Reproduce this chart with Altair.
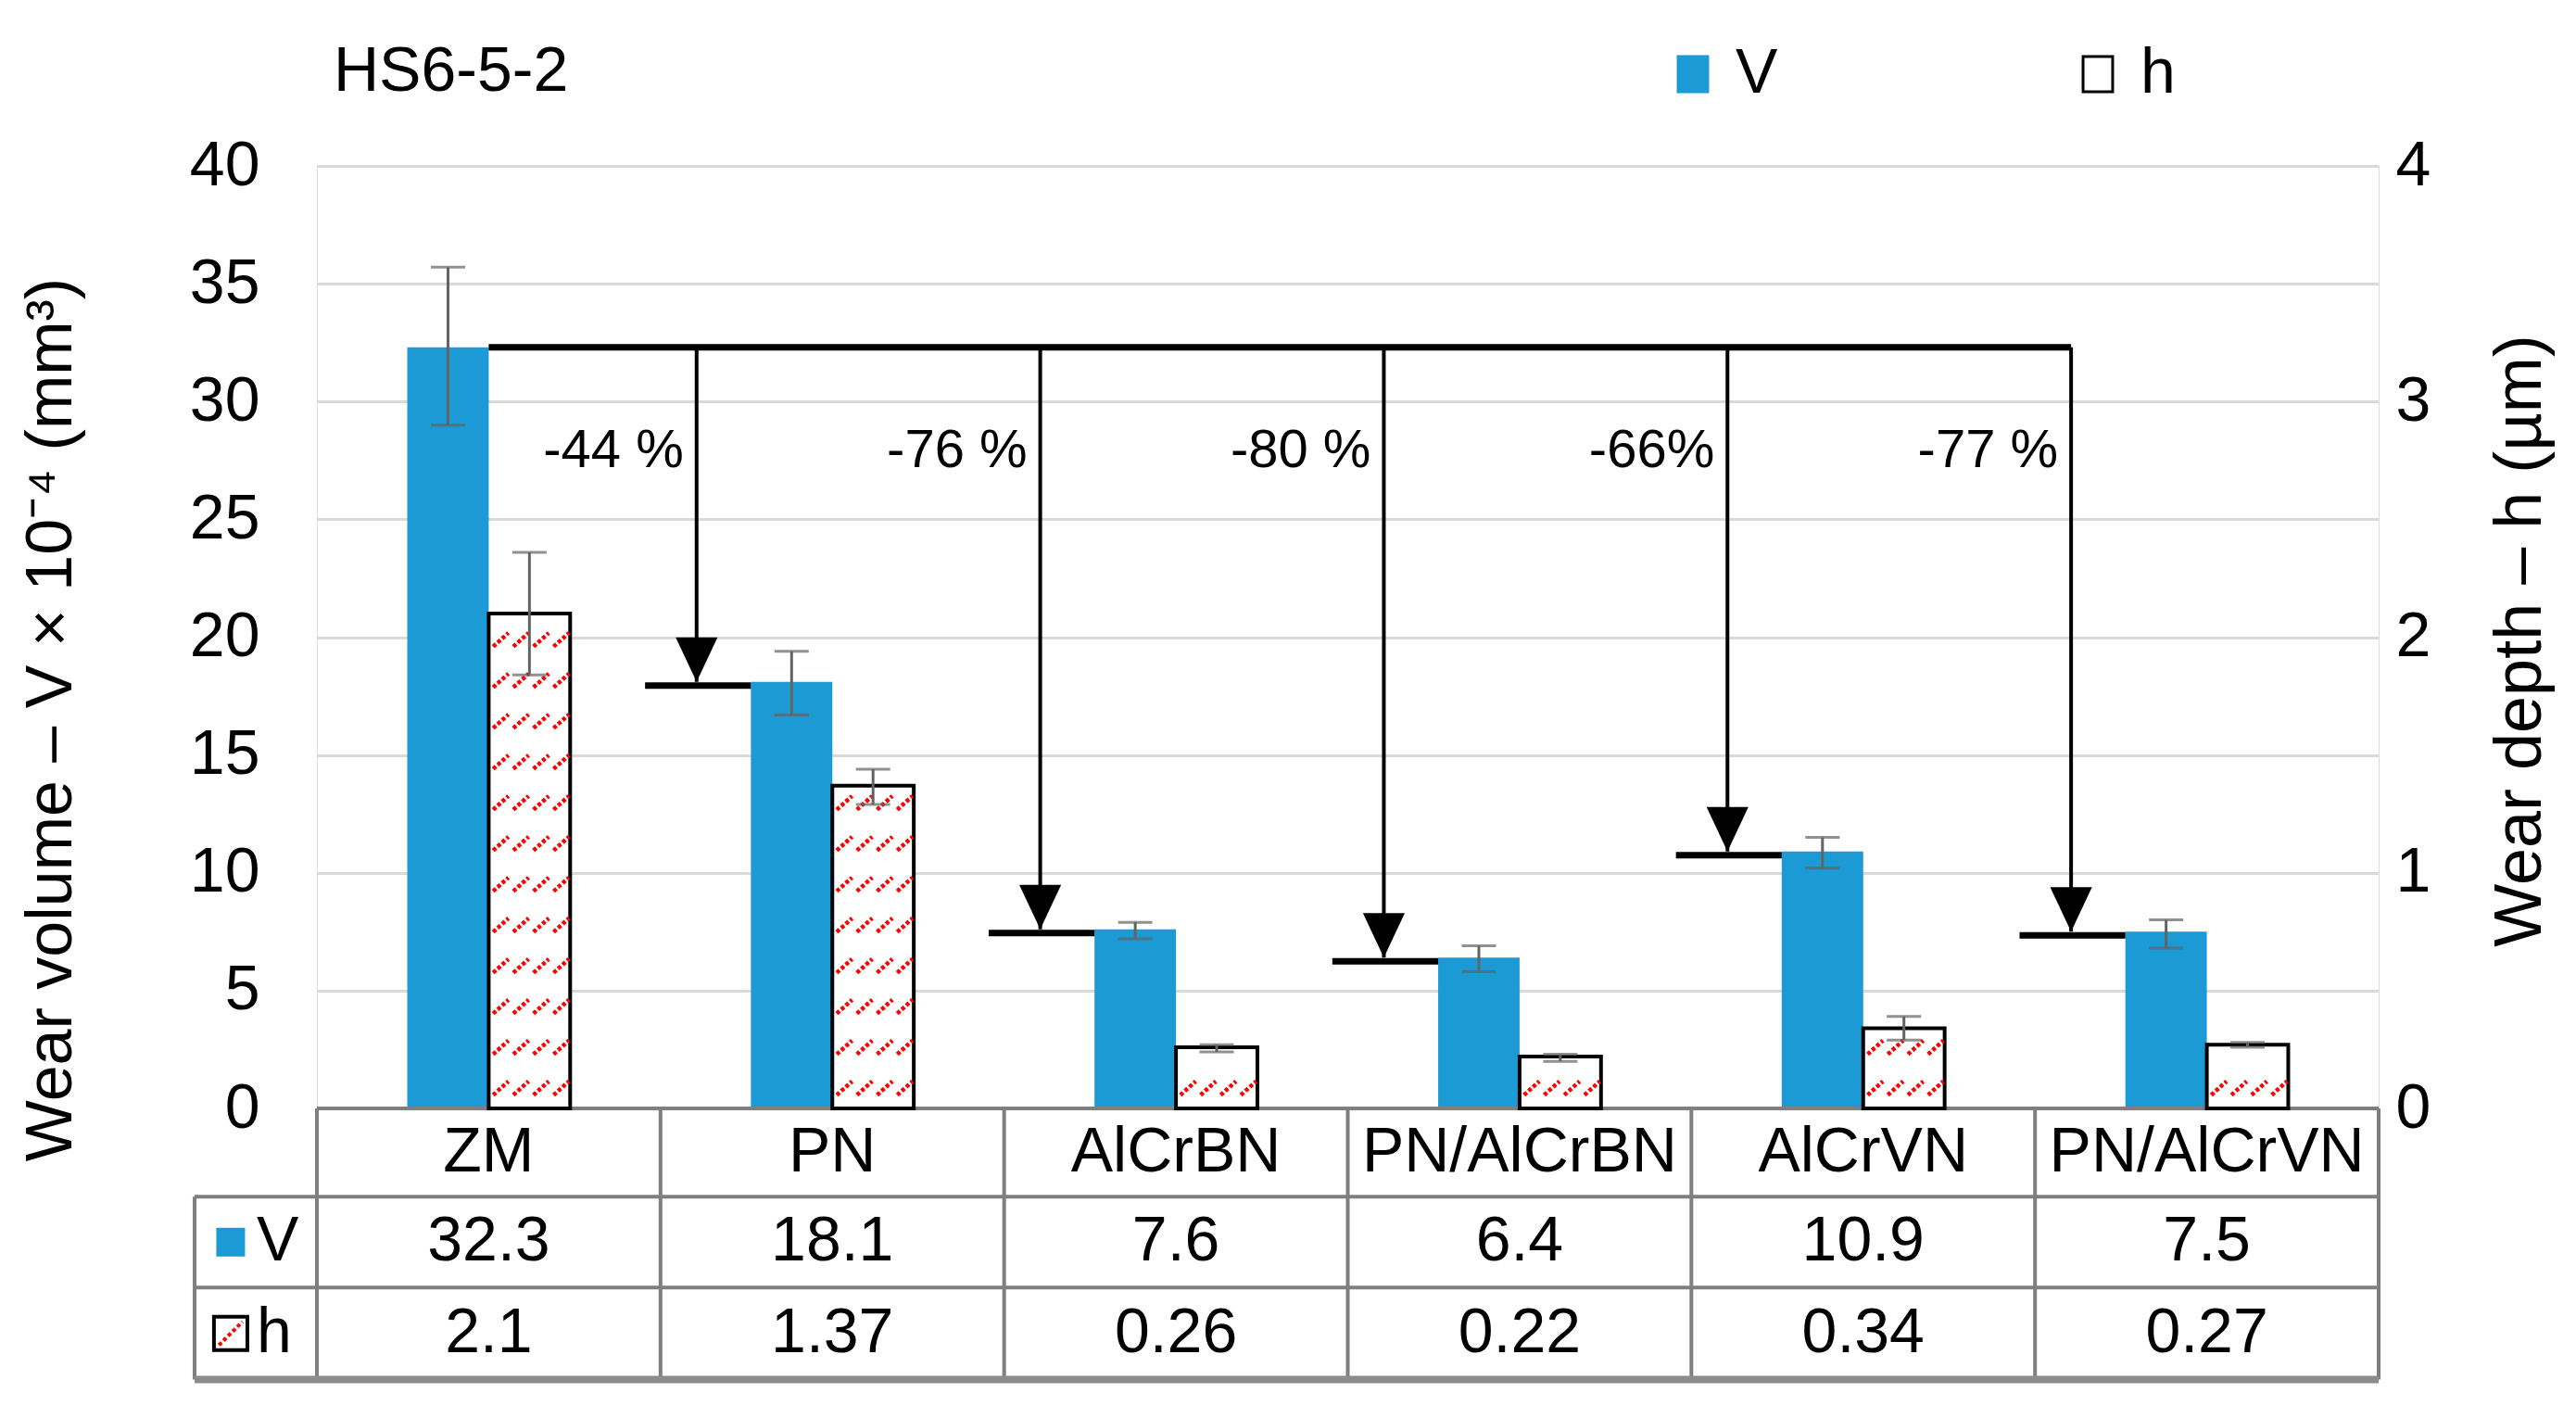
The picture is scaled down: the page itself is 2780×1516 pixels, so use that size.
import altair as alt
import pandas as pd

# ---------------- data ----------------
categories = ["ZM", "PN", "AlCrBN", "PN/AlCrBN", "AlCrVN", "PN/AlCrVN"]
V = [32.3, 18.1, 7.6, 6.4, 10.9, 7.5]
h = [2.1, 1.37, 0.26, 0.22, 0.34, 0.27]
V_low = [29.0, 16.7, 7.2, 5.8, 10.2, 6.8]
V_high = [35.7, 19.4, 7.9, 6.9, 11.5, 8.0]
h_low = [1.84, 1.29, 0.24, 0.20, 0.29, 0.26]
h_high = [2.36, 1.44, 0.27, 0.23, 0.39, 0.28]
pct_labels = ["-44 %", "-76 %", "-80 %", "-66%", "-77 %"]
V_table = ["32.3", "18.1", "7.6", "6.4", "10.9", "7.5"]
h_table = ["2.1", "1.37", "0.26", "0.22", "0.34", "0.27"]
v_ticks = [0, 5, 10, 15, 20, 25, 30, 35, 40]
h_ticks = [0, 1, 2, 3, 4]
series = ["V", "h"]

# ---------------- style / layout ----------------
FONT = "Liberation Sans"
BLUE = "#1B9AD6"
ERR = "#636363"
GRID = "#d9d9d9"
TLINE = "#7f7f7f"
BW = 0.237            # bar width in category units
ARROW_DX = -0.395     # arrow position relative to category centre
TARGET_X0 = -0.545    # left end of target line
PCT_Y = 27.9
ROW_Y = [0, -3.75, -7.6, -11.5]   # table row boundaries (in left-axis units)
HEADER_LEFT = -0.856
KEY_X = -0.751
KEY_LABEL_X = -0.675
HATCH_START, HATCH_STEP, HATCH_MARGIN = 0.086, 0.173, 0.03
W, H = 2225, 1017

n = len(categories)
idx = list(range(n))

vdf = pd.DataFrame({"cat": categories, "idx": idx, "val": V, "lo": V_low, "hi": V_high})
vdf["series"] = "V"
vdf["x0"] = vdf["idx"] - BW
vdf["x1"] = vdf["idx"]
vdf["xc"] = vdf["idx"] - BW / 2

hdf = pd.DataFrame({"cat": categories, "idx": idx, "val": h, "lo": h_low, "hi": h_high})
hdf["series"] = "h"
hdf["x0"] = hdf["idx"]
hdf["x1"] = hdf["idx"] + BW
hdf["xc"] = hdf["idx"] + BW / 2

hatch_rows = []
for i, hv in enumerate(h):
    y = HATCH_START
    while y + HATCH_MARGIN <= hv:
        hatch_rows.append({"xc": i + BW / 2, "y": y})
        y += HATCH_STEP
hatch = pd.DataFrame(hatch_rows)

arr = pd.DataFrame({
    "x": [i + ARROW_DX for i in idx[1:]],
    "ytop": [V[0]] * (n - 1),
    "ytip": V[1:],
    "tx0": [i + TARGET_X0 for i in idx[1:]],
    "tx1": [i - BW for i in idx[1:]],
    "label": pct_labels,
    "ly": [PCT_Y] * (n - 1),
})
longline = pd.DataFrame({"x0": [0], "x1": [idx[-1] + ARROW_DX], "y": [V[0]]})

# table lines
hl = [{"x0": -0.5, "x1": n - 0.5, "y0": ROW_Y[0], "y1": ROW_Y[0]}]
for ry in ROW_Y[1:-1]:
    hl.append({"x0": HEADER_LEFT, "x1": n - 0.5, "y0": ry, "y1": ry})
vl_ = [{"x0": k - 0.5, "x1": k - 0.5, "y0": ROW_Y[0], "y1": ROW_Y[-1]} for k in range(n + 1)]
vl_.append({"x0": HEADER_LEFT, "x1": HEADER_LEFT, "y0": ROW_Y[1], "y1": ROW_Y[-1]})
tlines = pd.DataFrame(hl + vl_)
bottom = pd.DataFrame({"x0": [HEADER_LEFT], "x1": [n - 0.5], "y0": [ROW_Y[-1]], "y1": [ROW_Y[-1]]})

mid = [(ROW_Y[k] + ROW_Y[k + 1]) / 2 for k in range(3)]
ttext = pd.DataFrame({
    "x": idx * 3,
    "y": [mid[0]] * n + [mid[1]] * n + [mid[2]] * n,
    "t": categories + V_table + h_table,
})
rowhead = pd.DataFrame({"s": series, "y": mid[1:], "kx": [KEY_X] * 2, "lx": [KEY_LABEL_X] * 2})

# ---------------- encodings ----------------
XS = alt.Scale(domain=[-0.5, n - 0.5], nice=False, zero=False)
def X(f):
    return alt.X(f, type="quantitative", scale=XS, axis=None)

YS_L = alt.Scale(domain=[0, 40], nice=False, zero=False)
AX_L = alt.Axis(values=v_ticks, title="Wear volume – V × 10⁻⁴ (mm³)", grid=True,
                gridColor=GRID, gridWidth=3, domain=False, ticks=False,
                labelFontSize=68, labelPadding=62, labelColor="black", labelFont=FONT,
                titleFontSize=70, titleFont=FONT, titleFontWeight="normal", titleColor="black",
                titleAngle=270, titleX=-287, titleY=597, titleAlign="center", titleBaseline="middle")
def YL(f):
    return alt.Y(f, type="quantitative", scale=YS_L, axis=AX_L)

YS_R = alt.Scale(domain=[0, 4], nice=False, zero=False)
AX_R = alt.Axis(values=h_ticks, orient="right", title="Wear depth – h (µm)", grid=False,
                domain=False, ticks=False, labelFontSize=68, labelPadding=18,
                labelColor="black", labelFont=FONT,
                titleFontSize=72, titleFont=FONT, titleFontWeight="normal", titleColor="black",
                titleAngle=270, titleX=152, titleY=512, titleAlign="center", titleBaseline="middle")
def YR(f):
    return alt.Y(f, type="quantitative", scale=YS_R, axis=AX_R)

RECT = "M-0.84,-1H0.84V1H-0.84Z"
LEG = alt.Legend(title=None, orient="none", legendX=1451, legendY=-133, direction="horizontal",
                 columns=2, columnPadding=311, padding=0, labelFontSize=68, labelFont=FONT,
                 labelColor="black", labelOffset=12, symbolType=RECT, symbolSize=1444,
                 symbolStrokeWidth=3)
FILL = alt.Color("series:N", scale=alt.Scale(domain=series, range=[BLUE, "white"]), legend=LEG)
STROKE = alt.Stroke("series:N", scale=alt.Scale(domain=series, range=[BLUE, "black"]), legend=LEG)

TRI = "M-0.94,-2L0.94,-2L0,0Z"
HATCH = "M-0.9,0.17L-0.52,-0.17M-0.4,0.17L-0.02,-0.17M0.1,0.17L0.48,-0.17M0.6,0.17L0.98,-0.17"
SQ = "M-1,-1H1V1H-1Z"
DIAG = "M-0.7,0.7L0.7,-0.7"

# ---------------- left (V) layers ----------------
v_bars = alt.Chart(vdf).mark_bar(strokeWidth=0).encode(
    x=X("x0"), x2=alt.X2("x1"), y=YL("val"), y2=alt.datum(0), fill=FILL, stroke=STROKE)
v_err = alt.Chart(vdf).mark_errorbar(ticks=True, size=37, thickness=3, color=ERR).encode(
    x=X("xc"), y=YL("lo"), y2=alt.Y2("hi"))
long_l = alt.Chart(longline).mark_rule(strokeWidth=7, color="black").encode(
    x=X("x0"), x2=alt.X2("x1"), y=YL("y"))
vert = alt.Chart(arr).mark_rule(strokeWidth=4, color="black").encode(
    x=X("x"), y=YL("ytop"), y2=alt.Y2("ytip"))
target = alt.Chart(arr).mark_rule(strokeWidth=7, color="black", yOffset=4).encode(
    x=X("tx0"), x2=alt.X2("tx1"), y=YL("ytip"))
heads = alt.Chart(arr).mark_point(shape=TRI, size=2304, filled=True, color="black",
                                   opacity=1, strokeWidth=0).encode(x=X("x"), y=YL("ytip"))
pct = alt.Chart(arr).mark_text(align="right", baseline="middle", dx=-14, fontSize=58,
                               font=FONT, color="black").encode(x=X("x"), y=YL("ly"), text="label:N")

t_lines = alt.Chart(tlines).mark_rule(strokeWidth=4, color=TLINE).encode(
    x=X("x0"), x2=alt.X2("x1"), y=YL("y0"), y2=alt.Y2("y1"))
t_bottom = alt.Chart(bottom).mark_rule(strokeWidth=8, color="#8c8c8c").encode(
    x=X("x0"), x2=alt.X2("x1"), y=YL("y0"), y2=alt.Y2("y1"))
t_text = alt.Chart(ttext).mark_text(baseline="middle", align="center", fontSize=68,
                                    font=FONT, color="black").encode(x=X("x"), y=YL("y"), text="t:N")
key_v = alt.Chart(rowhead[rowhead.s == "V"]).mark_point(shape=SQ, size=961, filled=True,
                                                        color=BLUE, opacity=1, strokeWidth=0).encode(
    x=X("kx"), y=YL("y"))
key_h = alt.Chart(rowhead[rowhead.s == "h"]).mark_point(shape=SQ, size=1300, filled=True,
                                                        fill="white", stroke="black", strokeWidth=4,
                                                        opacity=1).encode(x=X("kx"), y=YL("y"))
key_hd = alt.Chart(rowhead[rowhead.s == "h"]).mark_point(shape=DIAG, size=1300, filled=False,
                                                         color="red", strokeWidth=4, strokeDash=[4, 3],
                                                         opacity=1).encode(x=X("kx"), y=YL("y"))
key_lbl = alt.Chart(rowhead).mark_text(align="left", baseline="middle", fontSize=68, font=FONT,
                                       color="black").encode(x=X("lx"), y=YL("y"), text="s:N")

left = alt.layer(v_bars, v_err, long_l, vert, target, heads, pct,
                 t_lines, t_bottom, t_text, key_v, key_h, key_hd, key_lbl)

# ---------------- right (h) layers ----------------
h_bars = alt.Chart(hdf).mark_bar(strokeWidth=4).encode(
    x=X("x0"), x2=alt.X2("x1"), y=YR("val"), y2=alt.datum(0), fill=FILL, stroke=STROKE)
h_hatch = alt.Chart(hatch).mark_point(shape=HATCH, size=7569, filled=False, color="red",
                                      strokeWidth=4.5, strokeDash=[4, 2.5], opacity=1).encode(
    x=X("xc"), y=YR("y"))
h_err = alt.Chart(hdf).mark_errorbar(ticks=True, size=37, thickness=3, color=ERR).encode(
    x=X("xc"), y=YR("lo"), y2=alt.Y2("hi"))
right = alt.layer(h_bars, h_hatch, h_err)

chart = alt.layer(left, right).resolve_scale(y="independent").properties(
    width=W, height=H,
    title=alt.TitleParams("HS6-5-2", anchor="start", frame="group", dx=18, offset=-120,
                          baseline="alphabetic", fontSize=68, font=FONT, fontWeight="normal",
                          color="black"),
    autosize=alt.AutoSizeParams(type="none"),
    padding={"left": 334, "top": 171, "right": 205, "bottom": 312},
).configure_view(stroke=None).configure(background="white")

chart.save("out.html", embed_options={"renderer": "svg", "actions": False})
